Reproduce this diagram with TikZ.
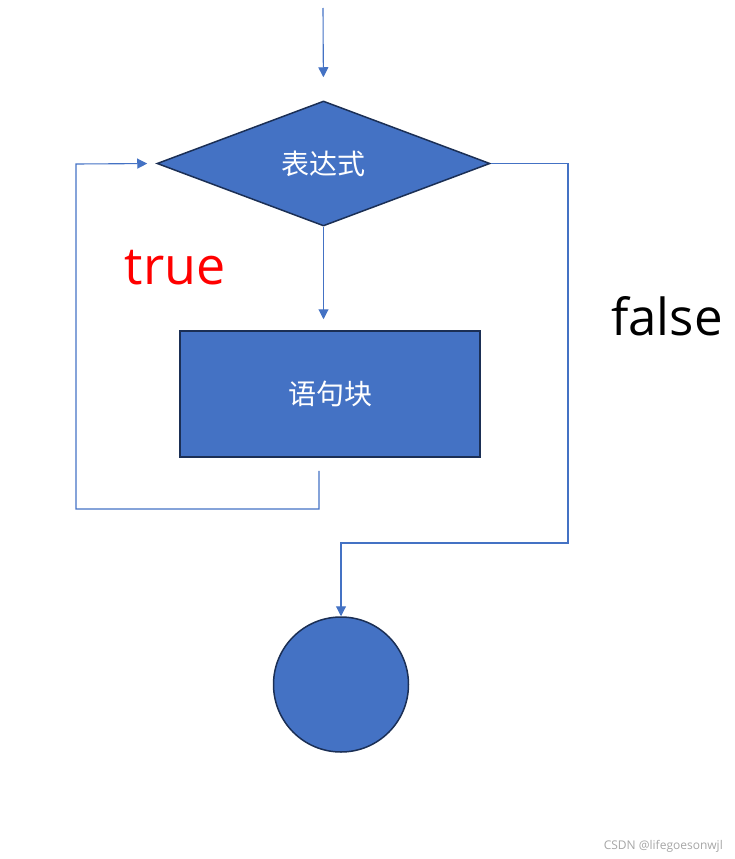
\documentclass[tikz,border=0pt]{standalone}
\usepackage{fontspec}
\setmainfont{Open Sans}
\newfontfamily\cjk{Noto Sans CJK SC}
\usetikzlibrary{shapes.geometric,arrows.meta}
\definecolor{boxblue}{HTML}{4472C4}
\definecolor{edgenavy}{HTML}{1B2F55}
\tikzset{
  shapebox/.style={draw=edgenavy,line width=1.5pt,fill=boxblue,text=white,font=\cjk\fontsize{28}{32}\selectfont,inner sep=0pt},
  link/.style={draw=boxblue,line width=1.1pt,-{Triangle[length=10pt,width=10pt]}},
}
\begin{document}
\begin{tikzpicture}[x=1pt,y=-1pt]
\useasboundingbox (0,0) rectangle (735,859);
\coordinate (start) at (323,8);
\node[shapebox,diamond,minimum width=333pt,minimum height=125pt] (cond) at (323.5,163.5) {表达式};
\node[shapebox,rectangle,minimum width=300pt,minimum height=126pt] (body) at (330,394) {语句块};
\node[shapebox,circle,minimum size=135pt] (end) at (341,684.5) {};
\coordinate (lb) at (76,509);
\coordinate (lt) at (76,164);
\coordinate (fr) at (568,163.5);
\coordinate (fb) at (568,543);
\coordinate (fl) at (341,543);
\draw[link,shorten >=23pt] (start) -- (cond.north);
\draw[link,shorten >=11pt] (cond.south) -- (cond.south |- body.north);
\draw[link,shorten <=13pt,shorten >=9pt] ([xshift=-11pt]body.south) |- (lb) -- (lt) -- (cond.west);
\draw[link] (cond.east) -- (fr) -- (fb) -- (fl) -- (end.north);
\node[text=red,font=\fontsize{52}{60}\selectfont,inner sep=0pt] (t) at (175,268) {true};
\node[text=black,font=\fontsize{51}{60}\selectfont,inner sep=0pt] (f) at (667,316) {false};
\node[text=black!35,font=\fontsize{12}{14}\selectfont,inner sep=0pt,anchor=east] (wm) at (723,846) {CSDN @lifegoesonwjl};
\end{tikzpicture}
\end{document}
